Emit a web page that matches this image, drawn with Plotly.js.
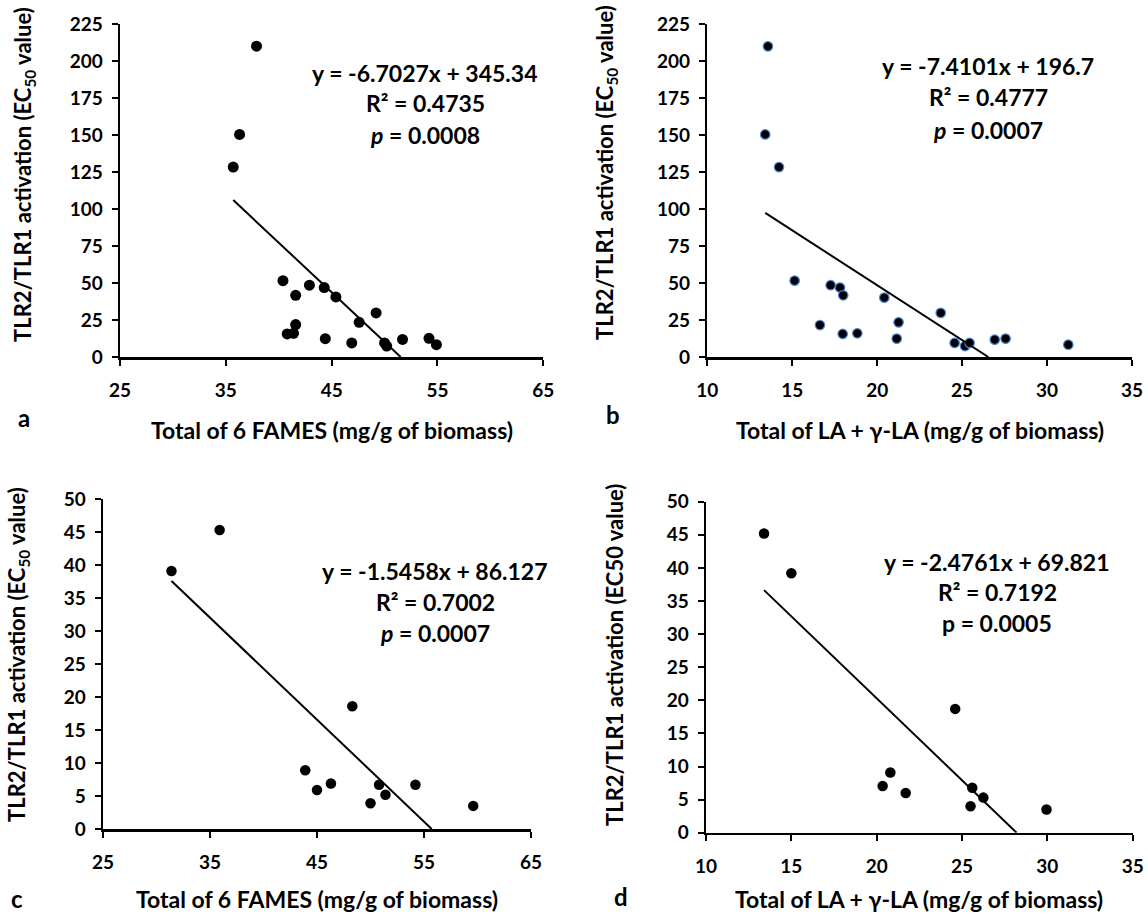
<!DOCTYPE html>
<html>
<head>
<meta charset="utf-8">
<script src="https://cdn.plot.ly/plotly-3.0.1.min.js"></script>
<style>html,body{margin:0;padding:0;background:#fff;}#chart{width:1148px;height:917px;}</style>
</head>
<body>
<div id="chart"></div>
<script>
// ---- Data ----
const aX = [37.9, 36.3, 35.7, 40.4, 41.6, 42.9, 44.3, 45.4, 49.2, 47.6, 41.6, 40.8, 41.4, 44.4, 46.9, 50.0, 50.2, 51.7, 54.2, 54.9];
const aY = [210, 150.4, 128.3, 51.6, 41.7, 48.5, 46.9, 40.6, 29.8, 23.4, 21.9, 15.6, 16.0, 12.4, 9.5, 9.5, 7.4, 11.9, 12.6, 8.3];

const bX = [13.57, 13.41, 14.22, 15.14, 17.26, 17.81, 18.0, 20.42, 23.74, 21.26, 16.63, 17.97, 18.83, 21.15, 24.56, 25.17, 25.44, 26.92, 27.56, 31.25];
const bY = [209.9, 150.4, 128.3, 51.6, 48.5, 46.9, 41.7, 40.1, 29.8, 23.4, 21.6, 15.6, 16.0, 12.4, 9.5, 7.4, 9.5, 11.7, 12.4, 8.3];

const cX = [35.9, 31.4, 48.3, 43.9, 45.0, 46.3, 50.8, 51.4, 50.0, 54.2, 59.6];
const cY = [45.3, 39.1, 18.6, 8.9, 5.9, 6.9, 6.7, 5.2, 3.9, 6.7, 3.5];

const dX = [13.4, 15.0, 24.6, 20.8, 20.35, 21.7, 25.6, 26.25, 25.5, 29.95];
const dY = [45.2, 39.2, 18.7, 9.1, 7.05, 6.0, 6.8, 5.3, 4.0, 3.5];

// linear fits (slope, intercept) as printed on the chart
const slopes = [-6.7027, -7.4101, -1.5458, -2.4761];
const intercepts = [345.34, 196.7, 86.127, 69.821];

// tick labels
const xTicksFames = [25, 35, 45, 55, 65];
const xTicksLA = [10, 15, 20, 25, 30, 35];
const yTicksBig = [0, 25, 50, 75, 100, 125, 150, 175, 200, 225];
const yTicksSmall = [0, 5, 10, 15, 20, 25, 30, 35, 40, 45, 50];

const eqTexts = ['y = -6.7027x + 345.34', 'y = -7.4101x + 196.7', 'y = -1.5458x + 86.127', 'y = -2.4761x + 69.821'];
const r2Texts = ['R² = 0.4735', 'R² = 0.4777', 'R² = 0.7002', 'R² = 0.7192'];
const pTexts = ['<i>p</i> = 0.0008', '<i>p</i> = 0.0007', '<i>p</i> = 0.0007', 'p = 0.0005'];

const xTitles = ['Total of 6 FAMES (mg/g of biomass)', 'Total of LA + γ-LA (mg/g of biomass)',
                 'Total of 6 FAMES (mg/g of biomass)', 'Total of LA + γ-LA (mg/g of biomass)'];
const yTitles = ['TLR2/TLR1 activation (EC<sub>50</sub> value)', 'TLR2/TLR1 activation (EC<sub>50</sub> value)',
                 'TLR2/TLR1 activation (EC<sub>50</sub> value)', 'TLR2/TLR1 activation (EC50 value)'];
const panelLabels = ['a', 'b', 'c', 'd'];

// ---- Layout settings ----
const W = 1148, H = 917;
const FONT = 'Lato, "Open Sans", sans-serif';
const xs = [aX, bX, cX, dX];
const ys = [aY, bY, cY, dY];
const xTicks = [xTicksFames, xTicksLA, xTicksFames, xTicksLA];
const yTicks = [yTicksBig, yTicksBig, yTicksSmall, yTicksSmall];
// plot areas in pixels [left, right, top, bottom]
const boxes = [[120, 543.3, 24, 357], [707.3, 1132, 24, 357], [103, 531, 499, 829], [706, 1132.7, 501.7, 832.7]];
const eqPos = [[425, 73, 103, 135], [988, 66, 97, 130], [435, 571, 602, 633], [997, 562, 592, 623]];
const labelPos = [[24, 417], [613, 415], [17, 898], [621, 896]];
const xTitleY = [430, 430, 899, 899];
const yTitlePos = [[24, 175], [606, 173], [18, 655], [614, 655]];
const markerSizes = [11, 9.5, 10.5, 10.5];
const markerLines = [{width: 0}, {width: 1.2, color: '#4f86d6'}, {width: 0}, {width: 0}];

const traces = [];
const layout = {
  width: W, height: H,
  margin: {l: 0, r: 0, t: 0, b: 0},
  paper_bgcolor: '#fff', plot_bgcolor: '#fff',
  showlegend: false,
  font: {family: FONT, color: '#000', size: 19},
  annotations: []
};

function ann(text, px, py, size, angle) {
  layout.annotations.push({
    xref: 'paper', yref: 'paper', x: px / W, y: 1 - py / H,
    xanchor: 'center', yanchor: 'middle', showarrow: false, text: '<b>' + text + '</b>',
    textangle: angle || 0,
    font: {family: FONT, size: size, color: '#000'}
  });
}
function boldLabels(v) { return v.map(function (t) { return '<b>' + t + '</b>'; }); }

for (let i = 0; i < 4; i++) {
  const xa = i === 0 ? 'x' : 'x' + (i + 1);
  const ya = i === 0 ? 'y' : 'y' + (i + 1);
  const xk = i === 0 ? 'xaxis' : 'xaxis' + (i + 1);
  const yk = i === 0 ? 'yaxis' : 'yaxis' + (i + 1);
  const b = boxes[i];
  const xt = xTicks[i], yt = yTicks[i];

  traces.push({
    type: 'scatter', mode: 'markers', x: xs[i], y: ys[i], xaxis: xa, yaxis: ya,
    marker: {color: '#000', size: markerSizes[i], line: markerLines[i]},
    cliponaxis: false, hoverinfo: 'x+y'
  });

  // trendline from smallest x to where the fit crosses zero
  const x0 = Math.min.apply(null, xs[i]);
  const x1 = -intercepts[i] / slopes[i];
  traces.push({
    type: 'scatter', mode: 'lines', x: [x0, x1],
    y: [slopes[i] * x0 + intercepts[i], slopes[i] * x1 + intercepts[i]],
    xaxis: xa, yaxis: ya, line: {color: '#000', width: 2}, hoverinfo: 'skip', cliponaxis: false
  });

  const common = {
    showgrid: false, zeroline: false, showline: true, linecolor: '#000', linewidth: 2.5,
    ticks: 'outside', ticklen: 6, tickwidth: 2, tickcolor: '#000',
    tickfont: {family: FONT, size: 19, color: '#000'},
    tickmode: 'array', fixedrange: true
  };
  layout[xk] = Object.assign({}, common, {
    domain: [b[0] / W, b[1] / W], anchor: ya, range: [xt[0], xt[xt.length - 1]],
    tickvals: xt, ticktext: boldLabels(xt), ticklabelstandoff: 9
  });
  layout[yk] = Object.assign({}, common, {
    domain: [1 - b[3] / H, 1 - b[2] / H], anchor: xa, range: [yt[0], yt[yt.length - 1]],
    tickvals: yt, ticktext: boldLabels(yt), ticklabelstandoff: 5
  });

  const e = eqPos[i];
  ann(eqTexts[i], e[0], e[1], 23);
  ann(r2Texts[i], e[0], e[2], 23);
  ann(pTexts[i], e[0], e[3], 23);

  ann(xTitles[i], (b[0] + b[1]) / 2, xTitleY[i], 23);
  ann(yTitles[i], yTitlePos[i][0], yTitlePos[i][1], 22, -90);
  ann(panelLabels[i], labelPos[i][0], labelPos[i][1], 24);
}

Plotly.newPlot('chart', traces, layout, {displayModeBar: false, staticPlot: true});
</script>
</body>
</html>
